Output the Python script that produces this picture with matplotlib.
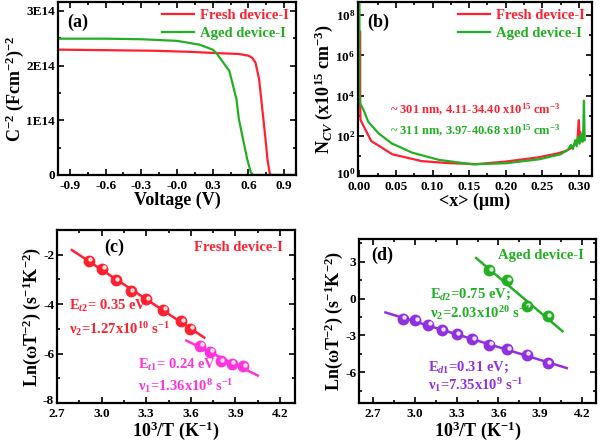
import numpy as np
import matplotlib
matplotlib.use("Agg")
import matplotlib.pyplot as plt
from matplotlib import ticker, transforms

plt.rcParams["font.family"] = ["Liberation Serif", "DejaVu Serif"]
plt.rcParams["font.weight"] = "bold"
plt.rcParams["axes.labelweight"] = "bold"
plt.rcParams["mathtext.fontset"] = "custom"
plt.rcParams["mathtext.rm"] = "Liberation Serif:bold"
plt.rcParams["mathtext.it"] = "Liberation Serif:bold:italic"
plt.rcParams["mathtext.bf"] = "Liberation Serif:bold"
plt.rcParams["axes.unicode_minus"] = False

RED = "#ff2030"
GREEN = "#22b022"
MAGENTA = "#ff33dd"
PURPLE = "#9030e0"

# (a) Mott-Schottky, C^-2 in units of 1E14
volt_fresh = [-1.0, -0.6, -0.2, 0.1, 0.3, 0.52, 0.6, 0.633, 0.66, 0.69, 0.717, 0.744, 0.76, 0.78, 0.8, 1.0]
c2_fresh = [2.29, 2.28, 2.27, 2.25, 2.23, 2.21, 2.18, 2.14, 2.05, 1.75, 1.2, 0.65, 0.29, 0.02, 0.0, 0.0]
volt_aged = [-1.0, -0.6, -0.3, 0.0, 0.19, 0.3, 0.33, 0.44, 0.5, 0.52, 0.56, 0.59, 0.62, 0.64, 1.0]
c2_aged = [2.49, 2.49, 2.48, 2.45, 2.38, 2.29, 2.23, 1.9, 1.38, 1.02, 0.6, 0.29, 0.05, 0.0, 0.0]

# (b) doping profile
x_fresh = [0.001, 0.001, 0.0015, 0.004, 0.016, 0.045, 0.085, 0.12, 0.16, 0.2, 0.245, 0.27,
           0.283, 0.29, 0.295, 0.298, 0.300, 0.301, 0.302]
n_fresh = [1.5e7, 3e3, 600, 400, 55, 12, 5.5, 4.4, 3.9, 5.2, 8.5, 13,
           18, 25, 40, 60, 600, 80, 150]
x_aged = [0.0, 0.0, 0.001, 0.0055, 0.012, 0.026, 0.044, 0.072, 0.109, 0.155, 0.2, 0.246,
          0.275, 0.285, 0.289, 0.292, 0.295, 0.297, 0.299, 0.301, 0.303, 0.305, 0.306, 0.307, 0.308]
n_aged = [5e8, 1e4, 4000, 1950, 500, 133, 42, 14.5, 6.3, 3.8, 4.3, 6.8,
          12, 20, 35, 22, 60, 30, 90, 40, 120, 50, 150, 5600, 60]

# (c) Arrhenius, fresh device
invT_c2 = [2.915, 3.003, 3.096, 3.195, 3.300, 3.413, 3.534, 3.597]
ln_c2 = [-2.24, -2.57, -3.03, -3.47, -3.81, -4.22, -4.69, -5.00]
invT_c1 = [3.663, 3.731, 3.802, 3.876, 3.953]
ln_c1 = [-5.68, -5.92, -6.32, -6.41, -6.51]
span_c2 = [2.80, 3.69]
span_c1 = [3.57, 4.05]

# (d) Arrhenius, aged device
invT_d1 = [2.915, 3.003, 3.096, 3.195, 3.300, 3.413, 3.534, 3.663, 3.802, 3.953]
ln_d1 = [-1.66, -1.77, -2.15, -2.59, -2.92, -3.30, -3.74, -4.12, -4.58, -5.26]
invT_d2 = [3.534, 3.663, 3.802, 3.953]
ln_d2 = [2.32, 1.50, -0.63, -1.45]
span_d1 = [2.79, 4.09]
span_d2 = [3.44, 4.06]

fig = plt.figure(figsize=(6.0, 4.42), dpi=100)


def box(l, t, r, b):
    return [l / 600, 1 - b / 442, (r - l) / 600, (b - t) / 442]


def style(ax):
    ax.tick_params(which="both", direction="in", top=True, right=True,
                   labelsize=9.5, width=1.2)
    ax.tick_params(axis="x", pad=3.5)
    ax.tick_params(axis="y", pad=2)
    ax.tick_params(which="major", length=4)
    ax.tick_params(which="minor", length=2.5)
    for s in ax.spines.values():
        s.set_linewidth(1.6)


def lift_bottom_ylabel(ax, dy=4):
    # nudge the corner y tick label up so it clears the first x tick label
    lab = ax.yaxis.get_major_ticks()[0].label1
    lab.set_transform(lab.get_transform() + transforms.ScaledTranslation(0, dy / 100, fig.dpi_scale_trans))


def balls(ax, x, y, color):
    ax.plot(x, y, "o", ms=7.5, color=color, mec=color)
    shift = transforms.offset_copy(ax.transData, fig=fig, x=1.5, y=1.5, units="dots")
    ax.plot(x, y, "o", ms=2.2, color="white", alpha=0.8, transform=shift)


def fit_line(ax, x, y, span, color):
    k, b = np.polyfit(x, y, 1)
    xs = np.array(span)
    ax.plot(xs, k * xs + b, color=color, lw=1.8)


LABEL = 13

# ---- (a)
ax = fig.add_axes(box(58, 2, 296, 175))
ax.plot(volt_fresh, np.array(c2_fresh) * 1e14, color=RED, lw=1.6, label="Fresh device-I")
ax.plot(volt_aged, np.array(c2_aged) * 1e14, color=GREEN, lw=1.6, label="Aged device-I")
ax.set_xlim(-1.0, 1.0)
ax.set_ylim(0, 3.16e14)
ax.set_xticks(np.arange(-0.9, 0.91, 0.3))
ax.xaxis.set_minor_locator(ticker.MultipleLocator(0.15))
ax.set_yticks([0, 1e14, 2e14, 3e14])
ax.set_yticklabels(["0", "1E14", "2E14", "3E14"])
ax.yaxis.set_minor_locator(ticker.MultipleLocator(0.5e14))
ax.xaxis.set_major_formatter(ticker.FormatStrFormatter("%.1f"))
style(ax)
ax.set_xlabel("Voltage (V)", fontsize=LABEL, labelpad=0)
ax.set_ylabel("C$^{-2}$ (Fcm$^{-2}$)$^{-2}$", fontsize=LABEL, labelpad=0)
leg = ax.legend(loc="upper right", frameon=False, fontsize=10.5, handlelength=2.2,
                borderaxespad=0.1, labelspacing=0.3, handletextpad=0.4)
for t, c in zip(leg.get_texts(), [RED, GREEN]):
    t.set_color(c)
ax.text(0.04, 0.93, "(a)", transform=ax.transAxes, fontsize=13, va="top")

# ---- (b)
ax = fig.add_axes(box(358, 2, 592, 176))
ax.plot(x_fresh, n_fresh, color=RED, lw=1.6, label="Fresh device-I")
ax.plot(x_aged, n_aged, color=GREEN, lw=1.6, label="Aged device-I")
ax.set_yscale("log")
ax.set_xlim(-0.002, 0.318)
ax.set_ylim(1, 10 ** 8.65)
ax.set_xticks(np.arange(0, 0.31, 0.05))
ax.xaxis.set_minor_locator(ticker.MultipleLocator(0.025))
ax.xaxis.set_major_formatter(ticker.FormatStrFormatter("%.2f"))
ax.yaxis.set_major_locator(ticker.FixedLocator([1e0, 1e2, 1e4, 1e6, 1e8]))
ax.yaxis.set_minor_locator(ticker.FixedLocator([1e1, 1e3, 1e5, 1e7]))
ax.yaxis.set_major_formatter(ticker.FuncFormatter(lambda v, p: "10$^{%d}$" % round(np.log10(v))))
ax.yaxis.set_minor_formatter(ticker.NullFormatter())
style(ax)
lift_bottom_ylabel(ax, 3)
ax.set_xlabel("<x> (μm)", fontsize=LABEL, labelpad=0)
ax.set_ylabel("N$_{CV}$ (x10$^{15}$ cm$^{-3}$)", fontsize=LABEL, labelpad=0)
leg = ax.legend(loc="upper right", frameon=False, fontsize=10.5, handlelength=2.2,
                borderaxespad=0.1, labelspacing=0.3, handletextpad=0.4)
for t, c in zip(leg.get_texts(), [RED, GREEN]):
    t.set_color(c)
ax.text(0.04, 0.93, "(b)", transform=ax.transAxes, fontsize=13, va="top")
ax.text(0.5, 0.38, "~ 301 nm, 4.11-34.40 x10$^{15}$ cm$^{-3}$", transform=ax.transAxes,
        color=RED, fontsize=9, ha="center", va="center")
ax.text(0.5, 0.26, "~ 311 nm, 3.97-40.68 x10$^{15}$ cm$^{-3}$", transform=ax.transAxes,
        color=GREEN, fontsize=9, ha="center", va="center")

# ---- (c)
ax = fig.add_axes(box(57, 230, 295, 403))
fit_line(ax, invT_c2, ln_c2, span_c2, RED)
fit_line(ax, invT_c1, ln_c1, span_c1, MAGENTA)
balls(ax, invT_c2, ln_c2, RED)
balls(ax, invT_c1, ln_c1, MAGENTA)
ax.set_xlim(2.7, 4.3)
ax.set_ylim(-8, -1)
ax.set_xticks(np.arange(2.7, 4.21, 0.3))
ax.xaxis.set_minor_locator(ticker.MultipleLocator(0.15))
ax.set_yticks([-8, -6, -4, -2])
ax.yaxis.set_minor_locator(ticker.MultipleLocator(1))
ax.xaxis.set_major_formatter(ticker.FormatStrFormatter("%.1f"))
style(ax)
lift_bottom_ylabel(ax, 4)
ax.set_xlabel("10$^{3}$/T (K$^{-1}$)", fontsize=LABEL, labelpad=0)
ax.set_ylabel("Ln(ωT$^{-2}$) (s$^{-1}$K$^{-2}$)", fontsize=LABEL, labelpad=0)
ax.text(0.2, 0.9, "(c)", transform=ax.transAxes, fontsize=13, va="center")
ax.text(0.95, 0.9, "Fresh device-I", transform=ax.transAxes, fontsize=10.5,
        color=RED, ha="right", va="center")
ax.text(0.05, 0.56, "E$_{t2}$= 0.35 eV", transform=ax.transAxes, fontsize=10.5,
        color=RED, va="center")
ax.text(0.05, 0.43, "ν$_{2}$=1.27x10$^{10}$ s$^{-1}$", transform=ax.transAxes, fontsize=10.5,
        color=RED, va="center")
ax.text(0.34, 0.22, "E$_{t1}$= 0.24 eV", transform=ax.transAxes, fontsize=10.5,
        color=MAGENTA, va="center")
ax.text(0.34, 0.10, "ν$_{1}$=1.36x10$^{8}$ s$^{-1}$", transform=ax.transAxes, fontsize=10.5,
        color=MAGENTA, va="center")

# ---- (d)
ax = fig.add_axes(box(359, 239, 596, 403))
fit_line(ax, invT_d1, ln_d1, span_d1, PURPLE)
fit_line(ax, invT_d2, ln_d2, span_d2, GREEN)
balls(ax, invT_d1, ln_d1, PURPLE)
balls(ax, invT_d2, ln_d2, GREEN)
ax.set_xlim(2.6, 4.3)
ax.set_ylim(-8.5, 4.85)
ax.set_xticks(np.arange(2.7, 4.21, 0.3))
ax.xaxis.set_minor_locator(ticker.MultipleLocator(0.15))
ax.set_yticks([-6, -3, 0, 3])
ax.yaxis.set_minor_locator(ticker.MultipleLocator(1.5))
ax.xaxis.set_major_formatter(ticker.FormatStrFormatter("%.1f"))
style(ax)
ax.set_xlabel("10$^{3}$/T (K$^{-1}$)", fontsize=LABEL, labelpad=0)
ax.set_ylabel("Ln(ωT$^{-2}$) (s$^{-1}$K$^{-2}$)", fontsize=LABEL, labelpad=0)
ax.text(0.05, 0.9, "(d)", transform=ax.transAxes, fontsize=13, va="center")
ax.text(0.95, 0.9, "Aged device-I", transform=ax.transAxes, fontsize=10.5,
        color=GREEN, ha="right", va="center")
ax.text(0.30, 0.66, "E$_{d2}$=0.75 eV;", transform=ax.transAxes, fontsize=10.5,
        color=GREEN, va="center")
ax.text(0.30, 0.55, "ν$_{2}$=2.03x10$^{20}$ s$^{-1}$", transform=ax.transAxes, fontsize=10.5,
        color=GREEN, va="center")
ax.text(0.29, 0.22, "E$_{d1}$=0.31 eV;", transform=ax.transAxes, fontsize=10.5,
        color=PURPLE, va="center")
ax.text(0.29, 0.11, "ν$_{1}$=7.35x10$^{9}$ s$^{-1}$", transform=ax.transAxes, fontsize=10.5,
        color=PURPLE, va="center")

fig.savefig("out.png", dpi=100)
